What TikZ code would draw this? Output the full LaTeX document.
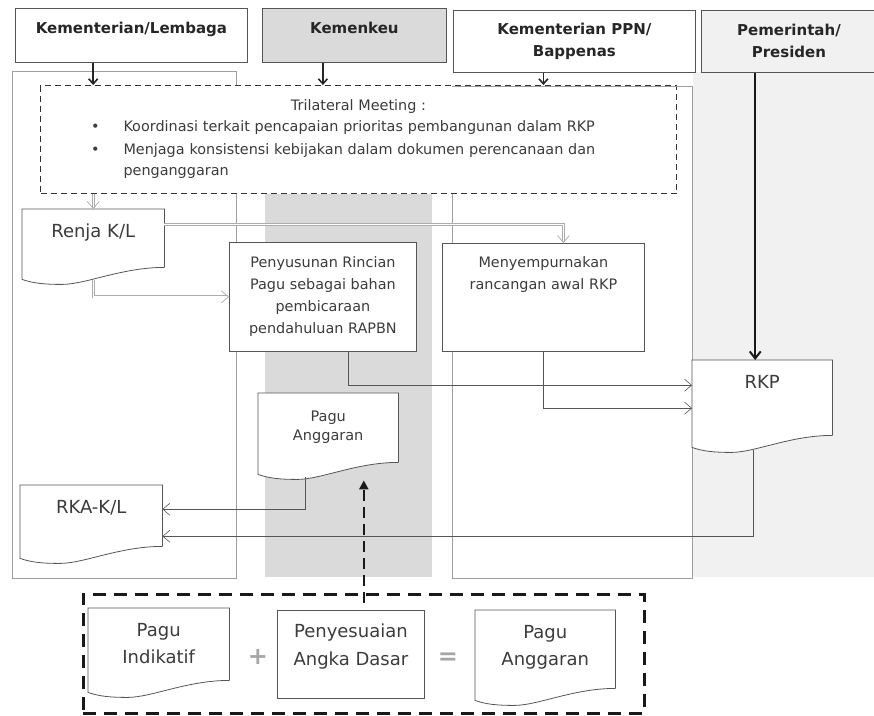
\documentclass[tikz,border=0pt]{standalone}
\usepackage{fontspec}
\setmainfont{DejaVu Sans}
\usetikzlibrary{arrows.meta,calc,positioning}

\definecolor{inkgray}{HTML}{3C3C3C}
\definecolor{linegray}{HTML}{555555}
\definecolor{lanegray}{HTML}{DADADA}
\definecolor{presgray}{HTML}{F1F1F1}

% wavy bottom of a document node
\newcommand{\docedge}[1]{%
  \fill[white] let \p1=(#1.south west), \p2=(#1.south east), \n1={\x2-\x1} in
    (\x2,\y2+1pt) -- (\x1,\y1+1pt) -- (\x1,\y1-12pt)
    .. controls (\x1+0.08*\n1,\y1-16pt) and (\x1+0.16*\n1,\y1-17pt) .. (\x1+0.28*\n1,\y1-17pt)
    .. controls (\x1+0.45*\n1,\y1-17pt) and (\x1+0.7*\n1,\y2) .. (#1.south east) -- cycle;
  \draw[box] let \p1=(#1.south west), \p2=(#1.south east), \n1={\x2-\x1} in
    (#1.south east) -- (#1.north east) -- (#1.north west) -- (\x1,\y1-12pt)
    .. controls (\x1+0.08*\n1,\y1-16pt) and (\x1+0.16*\n1,\y1-17pt) .. (\x1+0.28*\n1,\y1-17pt)
    .. controls (\x1+0.45*\n1,\y1-17pt) and (\x1+0.7*\n1,\y2) .. (#1.south east);}

\begin{document}
\begin{tikzpicture}[x=1pt,y=-1pt,
    hdr/.style={draw=linegray, line width=0.8pt, font=\fontsize{15}{22}\selectfont\bfseries,
      text=black!85, align=center, inner xsep=2pt, inner ysep=4pt, anchor=north west},
    box/.style={draw=linegray, line width=0.8pt},
    procbox/.style={box, fill=white, align=center, text=inkgray, inner sep=0pt,
      font=\fontsize{14.4}{22}\selectfont, anchor=north west},
    doc/.style={fill=white, align=center, text=inkgray, inner sep=0pt,
      font=\fontsize{18}{27}\selectfont, anchor=north west},
    lane/.style={draw=gray!75, line width=0.7pt},
    link/.style={draw=linegray, line width=0.6pt, -{Straight Barb[length=7pt,width=12pt]}},
    dbllink/.style={draw=gray!65, double=white, double distance=1.4pt, line width=0.75pt,
      -{Straight Barb[length=7pt,width=12pt]}},
    hdarrow/.style={draw=black!85, line width=1.6pt, -{Straight Barb[length=5pt,width=9pt]}},
    presarrow/.style={draw=black!90, line width=2pt, -{Straight Barb[length=7pt,width=11pt]}},
    dasharrow/.style={draw=black!90, line width=2.6pt, dash pattern=on 11pt off 6pt,
      -{Triangle[length=9pt,width=9pt]}},
    tribox/.style={draw=black!80, line width=1pt, dash pattern=on 6pt off 4pt, fill=white,
      anchor=north west},
    botbox/.style={draw=black!90, line width=2.6pt, dash pattern=on 13pt off 8pt,
      anchor=north west},
    op/.style={text=gray!70, font=\fontsize{24}{24}\selectfont\bfseries}]
  \useasboundingbox (0,0) rectangle (874,715);

  % lanes
  \fill[presgray] (693,72) rectangle (874,577);
  \fill[lanegray] (265,193) rectangle (432,577);
  \draw[lane] (12,71) rectangle (236,578);
  \draw[lane] (452,86) rectangle (692,578);

  % headers
  \node[hdr, minimum width=232pt, text height=21pt, text depth=25pt] (kl) at (15,8) {Kementerian/Lembaga};
  \node[hdr, minimum width=184pt, text height=21pt, text depth=25pt, fill=lanegray] (kmk) at (262,8) {Kemenkeu};
  \node[hdr, minimum width=242pt, minimum height=62pt] (ppn) at (453,10) {Kementerian PPN/\\Bappenas};
  \node[hdr, minimum width=175pt, minimum height=62pt, fill=presgray] (pres) at (701,10) {Pemerintah/\\Presiden};

  % trilateral meeting
  \node[tribox, minimum width=636pt, minimum height=108pt, text width=600pt, inner xsep=18pt,
    text=inkgray, font=\fontsize{14.4}{21}\selectfont] (tri) at (40,85) {%
    {\centering Trilateral Meeting :\par}
    \begin{list}{\textbullet}{\setlength{\leftmargin}{65pt}\setlength{\labelsep}{24pt}%
      \setlength{\topsep}{0pt}\setlength{\itemsep}{2pt}\setlength{\parsep}{0pt}\setlength{\partopsep}{0pt}}
    \item Koordinasi terkait pencapaian prioritas pembangunan dalam RKP
    \item Menjaga konsistensi kebijakan dalam dokumen perencanaan dan\\penganggaran
    \end{list}};
  \draw[lane] (452,86) -- (692,86);

  % process boxes and documents
  \node[doc, minimum width=142pt, text height=28pt, text depth=30pt] (renja) at (22,209) {Renja K/L};
  \node[procbox, minimum width=187pt, minimum height=109pt] (pen) at (229,242)
    {Penyusunan Rincian\\Pagu sebagai bahan\\pembicaraan\\pendahuluan RAPBN};
  \node[procbox, minimum width=202pt, text height=46pt, text depth=62pt] (men) at (442,243)
    {Menyempurnakan\\rancangan awal RKP};
  \node[doc, minimum width=140pt, text height=28pt, text depth=47pt] (rkp) at (692,360) {RKP};
  \node[doc, minimum width=140pt, text height=47pt, text depth=22pt,
    font=\fontsize{14.5}{19}\selectfont] (pagu) at (258,393) {Pagu\\Anggaran};
  \node[doc, minimum width=142pt, text height=28pt, text depth=33pt] (rka) at (20,485) {RKA-K/L};
  \docedge{renja}
  \docedge{rkp}
  \docedge{pagu}
  \docedge{rka}

  % bottom formula
  \node[botbox, minimum width=561pt, minimum height=119pt] (bot) at (82,593) {};
  \node[doc, minimum width=141pt, text height=55pt, text depth=17pt] (pind) at (88,608) {Pagu\\Indikatif};
  \node[procbox, minimum width=147pt, text height=55pt, text depth=33pt,
    font=\fontsize{18}{28}\selectfont] (pad) at (277,610) {Penyesuaian\\Angka Dasar};
  \node[doc, minimum width=140pt, text height=55pt, text depth=23pt] (pang) at (475,610) {Pagu\\Anggaran};
  \docedge{pind}
  \docedge{pang}
  \node[op] (plus) at (258,657) {+};
  \node[op] (eq) at (448,659) {=};

  % connectors
  \draw[hdarrow] (kl.south -| renja.north) -- (tri.north -| renja.north);
  \draw[hdarrow] (kmk.south -| pen.north) -- (tri.north -| pen.north);
  \draw[hdarrow] (ppn.south -| men.north) -- (tri.north -| men.north);
  \draw[presarrow] ($(pres.south -| rkp.north)+(-7,0)$) -- ($(rkp.north)+(-7,0)$);
  \draw[dbllink] (tri.south -| renja.north) -- (renja.north);
  \draw[dbllink] ($(renja.east)+(0,-14)$) -| ($(men.north)+(20,0)$);
  \draw[dbllink] ($(renja.south)+(0,13)$) |- (pen.west);
  \draw[link] ($(pen.south)+(25,0)$) |- ($(rkp.west)+(0,-12.5)$);
  \draw[link] (men.south) |- ($(rkp.west)+(0,10.5)$);
  \draw[link] ($(rkp.south)+(-9,15)$) |- ($(rka.east)+(0,20.5)$);
  \draw[link] ($(pagu.south)+(-23,15)$) |- ($(rka.east)+(0,-6.5)$);
  \draw[dasharrow] ($(bot.north)+(0,10)$) -- ($(bot.north |- pagu.south)+(0,18)$);
\end{tikzpicture}
\end{document}
